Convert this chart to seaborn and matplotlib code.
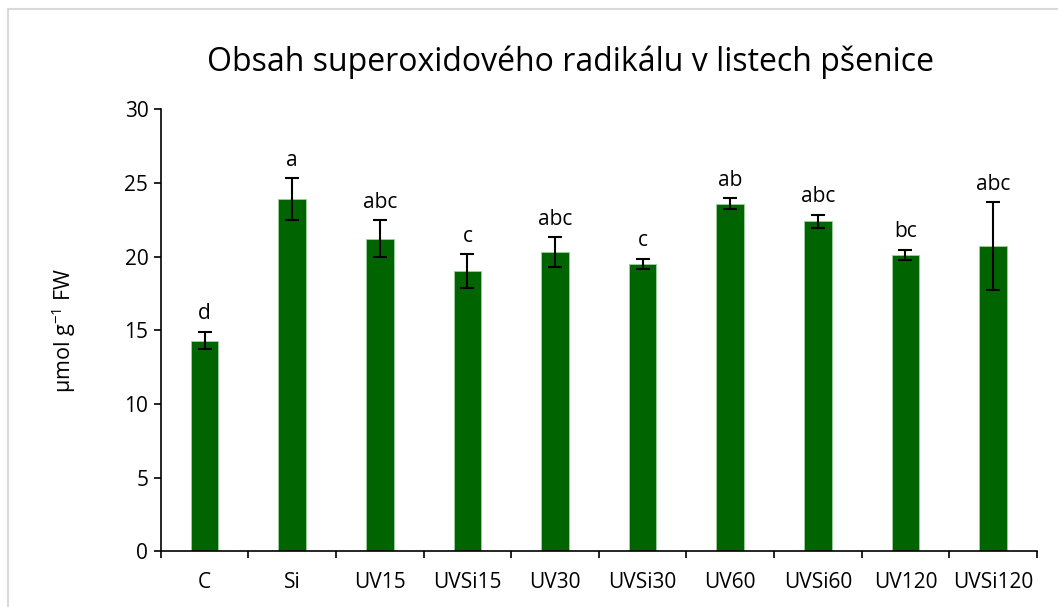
import matplotlib
matplotlib.use("Agg")
import matplotlib.pyplot as plt
import matplotlib.patches as mpatches
import numpy as np
import pandas as pd
import seaborn as sns

# hodnoty
varianty = ["C", "Si", "UV15", "UVSi15", "UV30", "UVSi30", "UV60", "UVSi60", "UV120", "UVSi120"]
prumer = [14.3, 23.9, 21.2, 19.0, 20.3, 19.5, 23.6, 22.4, 20.1, 20.7]
chyba = [0.6, 1.4, 1.25, 1.15, 1.0, 0.35, 0.35, 0.45, 0.35, 3.0]
pismena = ["d", "a", "abc", "c", "abc", "c", "ab", "abc", "bc", "abc"]

df = pd.DataFrame({"varianta": varianty, "prumer": prumer, "chyba": chyba})

sns.set_theme(style="white")
plt.rcParams["font.family"] = ["Open Sans", "DejaVu Sans"]
plt.rcParams["mathtext.fontset"] = "custom"
plt.rcParams["mathtext.rm"] = "Open Sans"

fig, ax = plt.subplots(figsize=(10.58, 6.07), dpi=100)
fig.subplots_adjust(left=0.152, right=0.980, bottom=0.092, top=0.820)

sns.barplot(data=df, x="varianta", y="prumer", color="#006400", saturation=1,
            width=0.316, edgecolor="#9fd09f", linewidth=0.6, ax=ax)

x = np.arange(len(varianty))
ax.errorbar(x, df["prumer"], yerr=df["chyba"], fmt="none", ecolor="black",
            elinewidth=1.5, capsize=5, capthick=1.5, zorder=5)

for i, (m, e, p) in enumerate(zip(prumer, chyba, pismena)):
    ax.annotate(p, (i, m + e), xytext=(0, 9), textcoords="offset points",
                ha="center", va="baseline", fontsize=15, color="black")

ax.set_ylim(0, 30)
ax.set_xlim(-0.5, len(varianty) - 0.5)
ax.set_yticks(range(0, 31, 5))
ax.set_xticks(x)
ax.set_xticks(np.arange(-0.5, len(varianty), 1), minor=True)

ax.tick_params(axis="x", which="major", length=0, pad=15, labelsize=15, colors="black")
ax.tick_params(axis="x", which="minor", direction="out", length=5, width=1.2, color="black", bottom=True)
ax.tick_params(axis="y", direction="out", length=5, width=1.2, pad=4, labelsize=15,
               colors="black", left=True)

for s in ["top", "right"]:
    ax.spines[s].set_visible(False)
for s in ["left", "bottom"]:
    ax.spines[s].set_color("black")
    ax.spines[s].set_linewidth(1.2)

ax.set_xlabel("")
ax.set_ylabel(r"µmol g$^{\mathregular{-1}}$ FW", fontsize=15.5, color="black")
ax.yaxis.set_label_coords(-0.095, 0.5)

fig.text(0.539, 0.898, "Obsah superoxidového radikálu v listech pšenice",
         ha="center", va="center", fontsize=23, color="black")

# svetle seda ramecek kolem grafu jako v Excelu
ramecek = mpatches.Rectangle((8 / 1058, -0.1), 1.2, 1.1 - 9 / 607, transform=fig.transFigure,
                             fill=False, edgecolor="#d9d9d9", linewidth=1.5)
fig.patches.append(ramecek)

fig.savefig("out.png", dpi=100)
